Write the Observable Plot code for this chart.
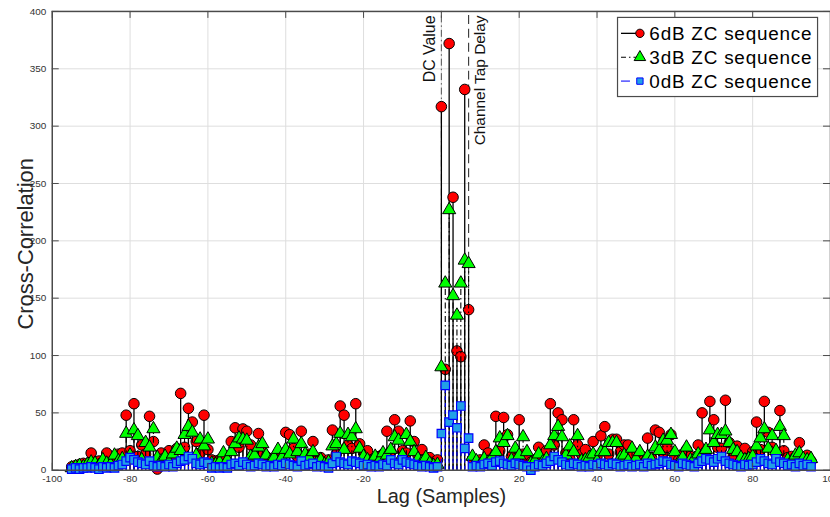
<!DOCTYPE html>
<html>
<head>
<meta charset="utf-8">
<script src="https://cdn.jsdelivr.net/npm/d3@7"></script>
<script src="https://cdn.jsdelivr.net/npm/@observablehq/plot@0.6"></script>
<style>
  html, body { margin: 0; padding: 0; background: #fff; overflow: hidden; }
  #chart { width: 830px; height: 517px; overflow: hidden; position: relative; }
  #chart svg { font-family: "Liberation Sans", Arial, Helvetica, sans-serif; }
</style>
</head>
<body>
<div id="chart"></div>
<script>
// Lag axis: integer sample lags from -95 to 95
const lags = d3.range(-95, 96);

// Cross-correlation magnitude per lag, one array per ZC sequence power
const red6dB = [
  3, 4, 5, 6, 4, 15, 5, 8, 6, 15,
  7, 10, 14, 15, 48, 17, 58, 12, 22, 14,
  47, 25, 1, 15, 9, 17, 11, 19, 67, 20,
  54, 42, 25, 15, 48, 18, 9, 8, 9, 11,
  7, 25, 37, 20, 36, 34, 22, 14, 32, 16,
  12, 9, 10, 14, 8, 33, 31, 19, 12, 34,
  10, 14, 25, 8, 11, 7, 9, 35, 14, 56,
  48, 22, 19, 58, 23, 15, 17, 9, 8, 12,
  14, 34, 16, 44, 34, 17, 15, 43, 25, 13,
  18, 9, 11, 7, 9,
  317, 88, 372, 238, 104, 99, 332, 140,
  10, 6, 9, 22, 15, 8, 47, 17, 46, 31,
  12, 10, 44, 14, 12, 7, 9, 20, 11, 17,
  58, 22, 50, 44, 15, 10, 44, 22, 14, 18,
  9, 25, 12, 30, 38, 14, 27, 27, 16, 22,
  22, 12, 8, 14, 9, 28, 11, 35, 33, 15,
  20, 31, 12, 9, 14, 18, 12, 8, 22, 50,
  15, 60, 44, 20, 19, 61, 24, 12, 21, 14,
  19, 10, 16, 42, 18, 60, 33, 20, 14, 52,
  17, 11, 12, 9, 24, 10, 13, 8
];

const green3dB = [
  2, 3, 4, 3, 5, 7, 6, 4, 9, 6,
  5, 13, 8, 10, 32, 13, 35, 30, 9, 24,
  20, 36, 11, 8, 12, 7, 14, 19, 17, 31,
  38, 33, 13, 27, 21, 27, 6, 5, 7, 15,
  9, 16, 23, 28, 27, 26, 12, 13, 20, 23,
  13, 7, 11, 18, 11, 18, 14, 27, 16, 23,
  14, 11, 16, 6, 9, 5, 7, 21, 23, 32,
  18, 31, 29, 36, 19, 12, 9, 7, 12, 8,
  15, 13, 18, 29, 26, 13, 31, 25, 16, 10,
  7, 11, 6, 4, 5,
  90, 163, 227, 152, 135, 163, 183, 180,
  12, 8, 5, 10, 7, 11, 16, 28, 24, 30,
  9, 19, 13, 29, 16, 6, 8, 14, 7, 10,
  22, 30, 38, 29, 13, 21, 16, 30, 8, 9,
  11, 14, 8, 16, 16, 24, 24, 24, 11, 13,
  8, 19, 10, 16, 7, 12, 9, 20, 17, 26,
  26, 31, 16, 7, 11, 20, 9, 10, 14, 13,
  18, 35, 24, 31, 31, 34, 24, 18, 16, 11,
  9, 10, 12, 21, 28, 36, 19, 30, 17, 38,
  30, 9, 8, 13, 15, 10, 9, 10
];

const blue0dB = [
  1, 2, 1, 2, 2, 3, 2, 1, 3, 2,
  3, 2, 4, 5, 8, 11, 9, 7, 6, 5,
  8, 4, 3, 4, 3, 5, 3, 6, 8, 9,
  12, 10, 6, 5, 7, 6, 2, 3, 2, 3,
  2, 5, 6, 4, 7, 5, 3, 4, 6, 5,
  3, 4, 3, 5, 4, 6, 5, 4, 3, 8,
  4, 5, 6, 3, 4, 3, 2, 6, 12, 7,
  6, 5, 8, 7, 6, 4, 5, 3, 4, 3,
  5, 4, 9, 6, 5, 9, 7, 6, 5, 4,
  3, 4, 3, 2, 3,
  32, 74, 42, 48, 37, 56, 19, 28,
  3, 4, 3, 5, 6, 4, 7, 8, 6, 5,
  4, 6, 5, 4, 3, 0, 3, 5, 4, 6,
  8, 12, 9, 7, 5, 4, 6, 5, 3, 4,
  3, 5, 4, 6, 5, 4, 6, 5, 3, 4,
  5, 3, 4, 5, 3, 6, 4, 5, 6, 8,
  7, 5, 4, 3, 6, 5, 4, 3, 6, 8,
  10, 9, 7, 10, 12, 8, 6, 5, 4, 3,
  5, 4, 5, 7, 10, 8, 6, 5, 10, 7,
  6, 4, 5, 3, 6, 4, 5, 3
];

const seriesNames = ["6dB ZC sequence", "3dB ZC sequence", "0dB ZC sequence"];
const xTicks = [-100, -80, -60, -40, -20, 0, 20, 40, 60, 80, 100];
const yTicks = [0, 50, 100, 150, 200, 250, 300, 350, 400];
const dcLag = [0];
const tapDelayLag = [7];
const annotations = ["DC Value", "Channel Tap Delay"];

const toRows = (values) => lags.map((lag, i) => ({lag, v: values[i]}));
const redRows = toRows(red6dB);
const greenRows = toRows(green3dB);
const blueRows = toRows(blue0dB);

const FRAME_H = 461, FRAME_W = 782;
const TICK = 7;
const gridColor = "#dedede";
const axisColor = "#4a4a4a";

const plot = Plot.plot({
  width: 834,
  height: 517,
  marginLeft: 52,
  marginRight: 0,
  marginTop: 11,
  marginBottom: 45,
  x: {domain: [-100, 100], axis: null},
  y: {domain: [0, 400], axis: null},
  style: {fontFamily: "'Liberation Sans', Arial, Helvetica, sans-serif", background: "#fff"},
  marks: [
    // grid
    Plot.ruleX(xTicks.slice(1, -1), {stroke: gridColor, strokeWidth: 1}),
    Plot.ruleY(yTicks.slice(1, -1), {stroke: gridColor, strokeWidth: 1}),

    // reference lines: DC value and channel tap delay
    Plot.ruleX(dcLag, {y1: 0, y2: 400, stroke: "#555", strokeWidth: 1, strokeDasharray: "7,3,1.5,3"}),
    Plot.ruleX(tapDelayLag, {y1: 0, y2: 400, stroke: "#333", strokeWidth: 1.1, strokeDasharray: "9,5"}),

    // 6 dB stems and markers
    Plot.ruleX(redRows, {x: "lag", y1: 0, y2: "v", stroke: "#000", strokeWidth: 1.3}),
    Plot.dot(redRows, {x: "lag", y: "v", r: 5.3, fill: "#ff0000", stroke: "#000", strokeWidth: 1}),

    // 3 dB stems and markers
    Plot.ruleX(greenRows, {x: "lag", y1: 0, y2: "v", stroke: "#000", strokeWidth: 1.1, strokeDasharray: "6,3,1.5,3"}),
    Plot.dot(greenRows, {x: "lag", y: "v", symbol: "triangle", r: 4.9, fill: "#00ff00", stroke: "#000", strokeWidth: 1}),

    // 0 dB stems and markers
    Plot.ruleX(blueRows, {x: "lag", y1: 0, y2: "v", stroke: "#0000ff", strokeWidth: 1.1, strokeDasharray: "4,3"}),
    Plot.dot(blueRows, {x: "lag", y: "v", symbol: "square", r: 4.8, fill: "#22a0e6", stroke: "#0000ff", strokeWidth: 1.2}),

    // annotations
    Plot.text([annotations[0]], {x: dcLag[0], y: 400, text: d => d, rotate: -90, textAnchor: "end", lineAnchor: "bottom",
      dx: -6, dy: 4, fontSize: 16, fill: "#111"}),
    Plot.text([annotations[1]], {x: tapDelayLag[0], y: 400, text: d => d, rotate: -90, textAnchor: "end", lineAnchor: "bottom",
      dx: 16.5, dy: 4, fontSize: 15.5, fill: "#111"}),

    // inward tick marks on all four sides
    Plot.ruleX(xTicks, {stroke: axisColor, strokeWidth: 1, insetTop: FRAME_H - TICK}),
    Plot.ruleX(xTicks, {stroke: axisColor, strokeWidth: 1, insetBottom: FRAME_H - TICK}),
    Plot.ruleY(yTicks, {stroke: axisColor, strokeWidth: 1, insetRight: FRAME_W - TICK}),
    Plot.ruleY(yTicks, {stroke: axisColor, strokeWidth: 1, insetLeft: FRAME_W - TICK}),

    Plot.frame({stroke: axisColor, strokeWidth: 1.5}),

    // tick labels
    Plot.axisX({ticks: xTicks, tickSize: 0, tickPadding: 5, fontSize: 10, label: null, fill: "#333", tickFormat: d => String(d)}),
    Plot.axisY({ticks: yTicks, tickSize: 0, tickPadding: 6, fontSize: 10, label: null, fill: "#333", tickFormat: d => String(d)}),

    // axis titles
    Plot.text(["Lag (Samples)"], {frameAnchor: "bottom", text: d => d, textAnchor: "middle", lineAnchor: "bottom", dy: 33, fontSize: 20, fill: "#262626"}),
    Plot.text(["Cross-Correlation"], {frameAnchor: "left", text: d => d, rotate: -90, textAnchor: "middle", lineAnchor: "bottom", dx: -19, dy: 3, fontSize: 22, fill: "#262626"})
  ]
});

document.getElementById("chart").appendChild(plot);

// legend box inside the axes, upper right
const svg = d3.select(plot);
const legend = svg.append("g").attr("class", "legend").attr("text-anchor", "start");
legend.append("rect")
  .attr("x", 620.5).attr("y", 17.5).attr("width", 201).attr("height", 79.5)
  .attr("fill", "#fff").attr("stroke", "#4a4a4a").attr("stroke-width", 1.2);

const rowBase = [40, 64, 88];
const symbolPath = (type, size) => d3.symbol(type, size)();
seriesNames.forEach((name, i) => {
  const cy = rowBase[i] - 6.5;
  const g = legend.append("g");
  if (i === 0) {
    g.append("line").attr("x1", 624).attr("x2", 641).attr("y1", cy).attr("y2", cy)
      .attr("stroke", "#000").attr("stroke-width", 1.3);
    g.append("path").attr("d", symbolPath(d3.symbolCircle, Math.PI * 4.2 * 4.2))
      .attr("transform", `translate(643,${cy})`).attr("fill", "#ff0000").attr("stroke", "#000");
  } else if (i === 1) {
    g.append("line").attr("x1", 624).attr("x2", 641).attr("y1", cy).attr("y2", cy)
      .attr("stroke", "#000").attr("stroke-width", 1.1).attr("stroke-dasharray", "5,3,1.5,3");
    g.append("path").attr("d", symbolPath(d3.symbolTriangle, Math.PI * 4.3 * 4.3))
      .attr("transform", `translate(643,${cy})`).attr("fill", "#00ff00").attr("stroke", "#000");
  } else {
    g.append("line").attr("x1", 624).attr("x2", 633).attr("y1", cy).attr("y2", cy)
      .attr("stroke", "#4d4dff").attr("stroke-width", 1.5);
    g.append("path").attr("d", symbolPath(d3.symbolSquare, Math.PI * 3.6 * 3.6))
      .attr("transform", `translate(643,${cy})`).attr("fill", "#22a0e6").attr("stroke", "#0000ff");
  }
  g.append("text").attr("x", 652.5).attr("y", rowBase[i])
    .attr("font-size", 19).attr("fill", "#000").attr("text-anchor", "start")
    .attr("textLength", 163).attr("lengthAdjust", "spacing")
    .text(name);
});
</script>
</body>
</html>
